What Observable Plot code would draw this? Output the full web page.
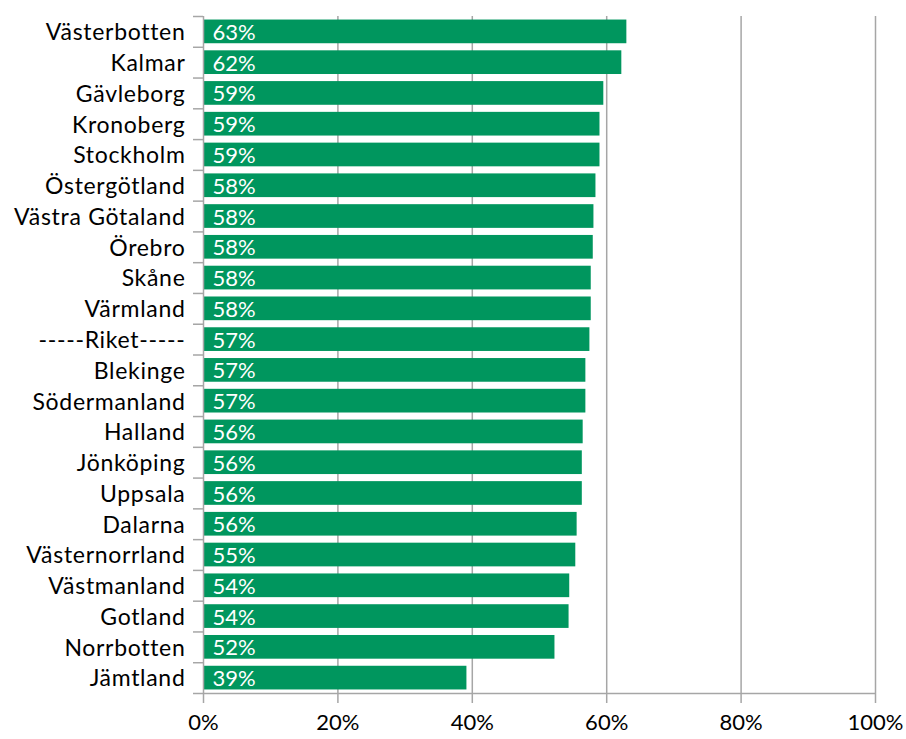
<!DOCTYPE html>
<html><head><meta charset="utf-8">
<script src="https://cdn.jsdelivr.net/npm/d3@7"></script>
<script src="https://cdn.jsdelivr.net/npm/@observablehq/plot@0.6"></script>
<style>
body{margin:0;background:#fff}
.cat text{letter-spacing:0.7px}
</style>
</head><body><div id="chart"></div>
<script>
const regions = ["Västerbotten","Kalmar","Gävleborg","Kronoberg","Stockholm","Östergötland","Västra Götaland","Örebro","Skåne","Värmland","-----Riket-----","Blekinge","Södermanland","Halland","Jönköping","Uppsala","Dalarna","Västernorrland","Västmanland","Gotland","Norrbotten","Jämtland"];
const values = [0.630,0.6225,0.5957,0.590,0.590,0.584,0.581,0.580,0.577,0.577,0.575,0.569,0.569,0.565,0.5637,0.5637,0.556,0.554,0.545,0.544,0.523,0.392];
const labels = ["63%","62%","59%","59%","59%","58%","58%","58%","58%","58%","57%","57%","57%","56%","56%","56%","56%","55%","54%","54%","52%","39%"];
const xTicks = [0,0.2,0.4,0.6,0.8,1];

const data = regions.map((r,i)=>({region:r, value:values[i], label:labels[i], idx:i}));
const n = regions.length;
const gray = "#a6a6a6";
const pad = 0.115;
const chart = Plot.plot({
  width: 906, height: 739,
  marginTop: 16, marginBottom: 46, marginLeft: 203, marginRight: 31,
  style: {fontFamily: "Lato", fontSize: "22px", fontWeight: 400, color: "#000", background: "#fff"},
  x: {domain: [0,1]},
  y: {domain: [0, n], reverse: true},
  marks: [
    Plot.ruleX(xTicks.slice(1), {stroke: gray, strokeWidth: 1.5}),
    Plot.rectX(data, {x1: 0, x2: "value", y1: d=>d.idx+pad, y2: d=>d.idx+1-pad, fill: "#00965E"}),
    Plot.text(data, {x: 0, y: d=>d.idx+0.5, text: "label", textAnchor: "start", dx: 9, dy: 1, fill: "white", fontSize: 22}),
    Plot.ruleX([0], {stroke: gray, strokeWidth: 1.5}),
    Plot.ruleY([n], {stroke: gray, strokeWidth: 1.5}),
    Plot.axisY(d3.range(n+1), {tickSize: 10, tickFormat: () => "", stroke: gray, strokeWidth: 1.5, label: null}),
    Plot.axisY(d3.range(n).map(i=>i+0.5), {tickSize: 0, tickPadding: 18, dy: 1, tickFormat: v => regions[Math.floor(v)], fill: "#000", fontSize: 23, className: "cat", label: null}),
    Plot.axisX(xTicks, {tickSize: 10, tickPadding: 11, tickFormat: d3.format(".0%"), stroke: gray, strokeWidth: 1.5, fill: "#000", label: null})
  ]
});
document.getElementById("chart").appendChild(chart);
</script>
</body></html>
